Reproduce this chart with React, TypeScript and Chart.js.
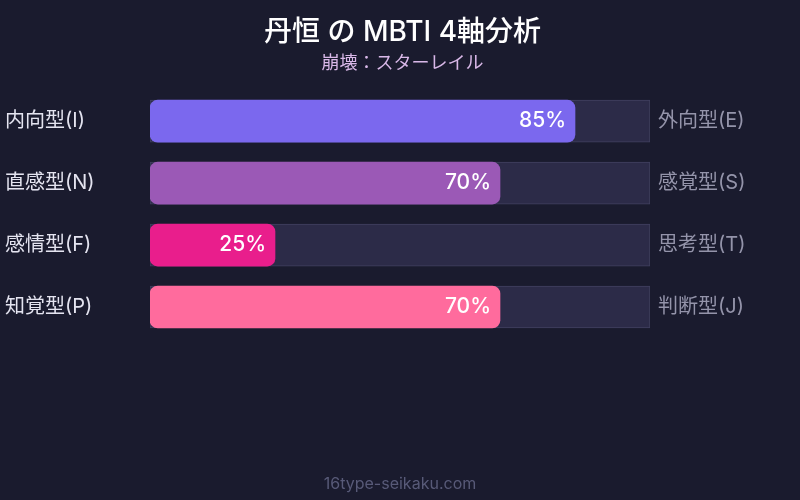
import React, { useEffect, useRef } from 'react';
import { Chart, registerables, Plugin } from 'chart.js';

Chart.register(...registerables);

const leftLabels = ['内向型(I)', '直感型(N)', '感情型(F)', '知覚型(P)'];
const rightLabels = ['外向型(E)', '感覚型(S)', '思考型(T)', '判断型(J)'];
const scores = [85, 70, 25, 70];
const trackValues = [100, 100, 100, 100];
const barColors = ['#7b68ee', '#9b59b6', '#e91e8c', '#ff6b9d'];

const FONT = "Inter, 'Noto Sans CJK JP', sans-serif";

const valueLabels: Plugin<'bar'> = {
  id: 'valueLabels',
  afterDatasetsDraw(chart) {
    const ctx = chart.ctx;
    const meta = chart.getDatasetMeta(0);
    ctx.save();
    ctx.font = `500 21px ${FONT}`;
    ctx.fillStyle = '#ffffff';
    ctx.textAlign = 'right';
    ctx.textBaseline = 'middle';
    meta.data.forEach((bar, i) => {
      ctx.fillText(`${scores[i]}%`, bar.x - 9, bar.y);
    });
    ctx.restore();
  },
};

const footer: Plugin<'bar'> = {
  id: 'footer',
  afterDraw(chart) {
    const ctx = chart.ctx;
    ctx.save();
    ctx.font = `16px ${FONT}`;
    ctx.fillStyle = '#585a78';
    ctx.textAlign = 'center';
    ctx.textBaseline = 'middle';
    ctx.fillText('16type-seikaku.com', chart.width / 2, 484);
    ctx.restore();
  },
};

const MbtiChart: React.FC = () => {
  const chartRef = useRef<HTMLCanvasElement | null>(null);
  const chartInstance = useRef<Chart | null>(null);

  useEffect(() => {
    const chartCanvas = chartRef.current?.getContext('2d');

    if (chartCanvas) {
      if (chartInstance.current) {
        chartInstance.current.destroy();
      }

      chartInstance.current = new Chart(chartCanvas, {
        type: 'bar',
        data: {
          labels: leftLabels,
          datasets: [
            {
              data: scores,
              backgroundColor: barColors,
              borderWidth: 0,
              borderRadius: 8,
              borderSkipped: false,
              barThickness: 42,
              grouped: false,
              order: 0,
            },
            {
              data: trackValues,
              backgroundColor: '#2c2b48',
              borderColor: '#40405f',
              borderWidth: 1,
              borderRadius: 0,
              borderSkipped: false,
              barThickness: 42,
              grouped: false,
              order: 1,
            },
          ],
        },
        plugins: [valueLabels, footer],
        options: {
          indexAxis: 'y',
          animation: false,
          responsive: true,
          maintainAspectRatio: false,
          layout: {
            padding: { left: 5, right: 0, top: 0, bottom: 162 },
          },
          scales: {
            x: {
              display: false,
              min: 0,
              max: 100,
            },
            y: {
              position: 'left',
              grid: { display: false, drawTicks: false },
              border: { display: false },
              ticks: {
                crossAlign: 'far',
                color: '#e4e4f0',
                font: { size: 20, family: FONT },
              },
              afterFit: (scale) => {
                scale.width = 145;
              },
            },
            yRight: {
              type: 'category',
              position: 'right',
              labels: rightLabels,
              grid: { display: false, drawTicks: false },
              border: { display: false },
              ticks: {
                padding: 8,
                color: '#9494aa',
                font: { size: 20, family: FONT },
              },
              afterFit: (scale) => {
                scale.width = 150;
              },
            },
          },
          plugins: {
            legend: { display: false },
            tooltip: { enabled: false },
            title: {
              display: true,
              text: '丹恒 の MBTI 4軸分析',
              color: '#ffffff',
              font: { size: 28, weight: 500, family: FONT },
              padding: { top: 16, bottom: 3 },
            },
            subtitle: {
              display: true,
              text: '崩壊：スターレイル',
              color: '#d9b8e8',
              font: { size: 18, family: FONT },
              padding: { top: 0, bottom: 16 },
            },
          },
        },
      });
    }

    return () => {
      if (chartInstance.current) {
        chartInstance.current.destroy();
        chartInstance.current = null;
      }
    };
  }, []);

  return <canvas ref={chartRef} />;
};

const App: React.FC = () => (
  <div
    style={{
      position: 'absolute',
      left: 0,
      top: 0,
      width: 800,
      height: 500,
      background: '#1a1b2e',
    }}
  >
    <MbtiChart />
  </div>
);

export default App;
